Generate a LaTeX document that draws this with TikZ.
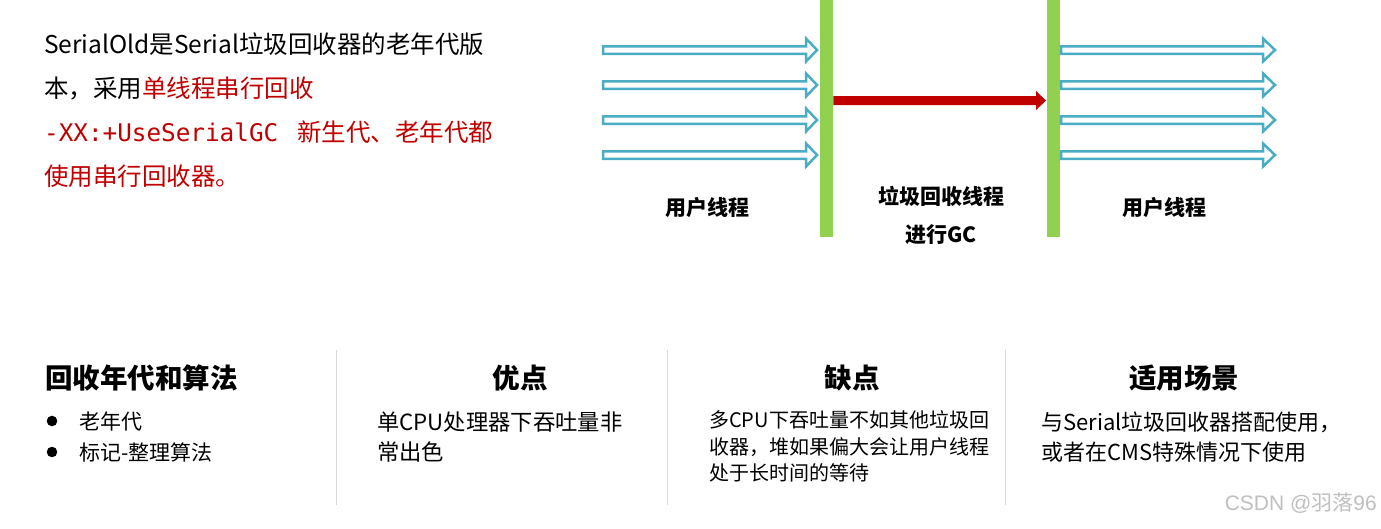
\documentclass[tikz,border=0pt]{standalone}
\usepackage{fontspec}
\setmainfont{Noto Sans CJK SC}
\newfontfamily\monofont{DejaVu Sans Mono}
\newfontfamily\wmfont{Liberation Sans}
\definecolor{gcred}{HTML}{C00000}
\definecolor{thblue}{HTML}{4BACC6}
\definecolor{bargreen}{HTML}{92D050}
\definecolor{divgray}{HTML}{D9D9D9}
\definecolor{wmgray}{HTML}{BFBFBF}
\tikzset{
  txt/.style={inner sep=0pt, anchor=west, font=\fontsize{24.5}{24.5}\selectfont},
  lbl/.style={inner sep=0pt, font=\fontsize{21}{21}\selectfont\bfseries},
  head/.style={inner sep=0pt, font=\fontsize{27.5}{27.5}\selectfont\bfseries},
  body/.style={inner sep=0pt, anchor=west, font=\fontsize{#1}{#1}\selectfont},
  body/.default=21,
  bar/.style={fill=bargreen, draw=none, inner sep=0pt, minimum width=13pt, minimum height=237pt, anchor=north west},
  hollow/.style={draw=thblue, line width=2.5pt, fill=white, line join=miter},
  divider/.style={draw=divgray, line width=0.8pt},
}
\begin{document}
\begin{tikzpicture}[x=1pt,y=-1pt]
\useasboundingbox (0,0) rectangle (1381,528);
% top-left text
\node[txt] (l1) at (44,44) {SerialOld是Serial垃圾回收器的老年代版};
\node[txt] (l2) at (44,88) {本，采用\textcolor{gcred}{单线程串行回收}};
\node[txt, text=gcred] (l3) at (44,132) {{\monofont\fontsize{24.3}{24.3}\selectfont -XX:+UseSerialGC}\hspace{19pt}新生代、老年代都};
\node[txt, text=gcred] (l4) at (44,176) {使用串行回收器。};
% bars
\node[bar] (b1) at (820,0) {};
\node[bar] (b2) at (1047,0) {};
% hollow arrows
\foreach \y in {50,85,120,155} {
  \draw[hollow] (603,\y-3.75) -- (806,\y-3.75) -- (806,\y-11.5) -- (817,\y) -- (806,\y+11.5) -- (806,\y+3.75) -- (603,\y+3.75) -- cycle;
  \draw[hollow] (1061,\y-3.75) -- (1263,\y-3.75) -- (1263,\y-11.5) -- (1275,\y) -- (1263,\y+11.5) -- (1263,\y+3.75) -- (1061,\y+3.75) -- cycle;
}
% red arrow
\fill[gcred] (b1.east |- 0,96) -- (1036,96) -- (1036,91) -- (1046,100.5) -- (1036,110) -- (1036,105) -- (b1.east |- 0,105) -- cycle;
% labels
\node[lbl] (u1) at (707,208) {用户线程};
\node[lbl] (g1) at (941,196) {垃圾回收线程};
\node[lbl] (g2) at (941,235) {进行GC};
\node[lbl] (u2) at (1164,208) {用户线程};
% dividers
\draw[divider] (336,350) -- (336,505);
\draw[divider] (667,350) -- (667,505);
\draw[divider] (1005,350) -- (1005,505);
% headings
\node[head, anchor=west] (h1) at (45,378) {回收年代和算法};
\node[head] (h2) at (520,378) {优点};
\node[head] (h3) at (852,378) {缺点};
\node[head] (h4) at (1184,378) {适用场景};
% column 1
\fill (52,421) circle (5.3pt);
\fill (52,452) circle (5.3pt);
\node[body] (c1a) at (79,421) {老年代};
\node[body] (c1b) at (79,452) {标记-整理算法};
% column 2
\node[body=22.3] (c2a) at (377,422) {单CPU处理器下吞吐量非};
\node[body=22.3] (c2b) at (377,452) {常出色};
% column 3
\node[body=20] (c3a) at (709,420) {多CPU下吞吐量不如其他垃圾回};
\node[body=20] (c3b) at (709,447) {收器，堆如果偏大会让用户线程};
\node[body=20] (c3c) at (709,473) {处于长时间的等待};
% column 4
\node[body=22] (c4a) at (1041,422) {与Serial垃圾回收器搭配使用，};
\node[body=22] (c4b) at (1041,452) {或者在CMS特殊情况下使用};
% watermark
\node[inner sep=0pt, anchor=east, text=wmgray, font=\fontsize{21}{21}\selectfont] (wm) at (1377,503) {{\wmfont CSDN @}羽落{\wmfont 96}};
\end{tikzpicture}
\end{document}
